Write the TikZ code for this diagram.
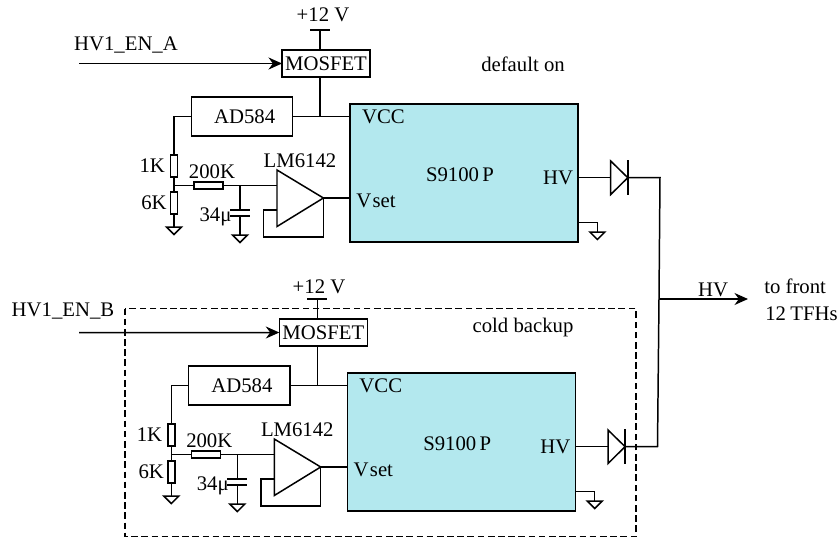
\documentclass[tikz,border=0pt]{standalone}
\usepackage{fontspec}
\setmainfont{Liberation Serif}
\usetikzlibrary{positioning, arrows.meta, calc}
\definecolor{chipfill}{HTML}{B3E8EE}
\tikzset{
    every node/.style={font=\fontsize{11.8}{14}\selectfont, inner sep=0pt},
    wire/.style={line width=0.85pt},
    block/.style={draw, line width=0.85pt, outer sep=0pt},
    res/.style={draw, line width=0.85pt, outer sep=0pt, minimum width=0.14cm, minimum height=0.44cm},
    resh/.style={draw, line width=0.85pt, outer sep=0pt, minimum width=0.58cm, minimum height=0.14cm},
    sigarrow/.style={line width=0.85pt, -{Stealth[length=2.7mm, width=2.4mm]}},
    gndsym/.pic={\draw[wire] (-7.5,0) -- (7.5,0) -- (0,7.5) -- cycle;}
}

\begin{document}
\begin{tikzpicture}[x=0.02cm, y=-0.02cm]
    \useasboundingbox (0,0) rectangle (839,542);

    % one channel, the second is the same one moved down
    \foreach \ch/\dx/\dy in {A/0/0, B/-2.7/269} {
    \begin{scope}[shift={(\dx,\dy)}]
        \node[block, fill=chipfill, minimum width=4.56cm, minimum height=2.76cm] (chip\ch) at (464,173.2) {};
        \node[block, minimum width=1.76cm, minimum height=0.54cm] (mos\ch) at (326,63.5) {MOSFET};
        \node[block, minimum width=2.03cm, minimum height=0.78cm] (ad\ch) at (242,116.7) {\hspace{3pt}AD584};
        \node (vcc\ch) at (383.5,116.5) {VCC};
        \node (vset\ch) at (376,201) {V\kern0.8pt set};
        \node (name\ch) at (460,174.5) {S9100\,P};
        \node (hv\ch) at (558,177.5) {HV};
        \node[res] (rup\ch) at (174,166) {};
        \node[res] (rlo\ch) at (174,203) {};
        \node[resh] (rser\ch) at (208.5,185.7) {};
        \node[left=3pt of rup\ch] (lup\ch) {1K};
        \node[left=2pt of rlo\ch] (llo\ch) {6K};
        \node (lser\ch) at (212,171.5) {200K};
        \node (lcap\ch) at (215.5,216.5) {34μ};
        \node (lop\ch) at (300,161) {LM6142};

        % supply and reference
        \coordinate (top\ch) at (320,30);
        \coordinate (tee\ch) at (320,116.3);
        \draw[wire] (310,30) -- (330,30);
        \draw[wire] (top\ch) -- (top\ch |- mos\ch.north);
        \draw[wire] (tee\ch |- mos\ch.south) -- (tee\ch);
        \draw[wire] (ad\ch.east |- tee\ch) -- (chip\ch.west |- tee\ch);

        % divider
        \coordinate (mid\ch) at (174,185.7);
        \draw[wire] (ad\ch.west) -- (rup\ch |- ad\ch.west) -- (rup\ch.north);
        \draw[wire] (rup\ch.south) -- (rlo\ch.north);
        \draw[wire] (rlo\ch.south) -- (174,227);
        \pic at (174,227) {gndsym};
        \draw[wire] (mid\ch) -- (rser\ch.west);

        % buffer
        \coordinate (opin\ch) at (277,185.7);
        \coordinate (opout\ch) at (323.4,198);
        \draw[wire] (277,170) -- (opout\ch) -- (277,226.5) -- cycle;
        \draw[wire] (rser\ch.east) -- (opin\ch);
        \draw[wire] (opout\ch) -- (chip\ch.west |- opout\ch);
        \draw[wire] (opout\ch) -- (323.4,237) -- (263.6,237) -- (263.6,210) -- (277,210);

        % capacitor
        \coordinate (capin\ch) at (240,185.7);
        \draw[wire] (capin\ch) -- (240,210);
        \draw[wire] (230,210) -- (250,210);
        \draw[wire] (230,216) -- (250,216);
        \draw[wire] (240,216) -- (240,235);
        \pic at (240,235) {gndsym};

        % output diode
        \coordinate (din\ch) at (610.7,177.7);
        \coordinate (dout\ch) at (627.8,177.7);
        \draw[wire] (chip\ch.east |- din\ch) -- (din\ch);
        \draw[wire] (610.7,161) -- (dout\ch) -- (610.7,194.5) -- cycle;
        \draw[wire] (627.8,160) -- (627.8,195);

        % chip ground
        \coordinate (cg\ch) at (597.4,222.7);
        \draw[wire] (chip\ch.east |- cg\ch) -- (cg\ch) -- (597.4,232);
        \pic at (597.4,232) {gndsym};
    \end{scope}
    }

    % labels that do not follow the channel
    \node (vA) at (323,14.5) {+12 V};
    \node (vB) at (319,286.5) {+12 V};
    \node (enA) at (126,44.5) {HV1\_EN\_A};
    \node (enB) at (63,310.5) {HV1\_EN\_B};
    \node (defon) at (523,64.5) {default on};
    \node (cold) at (523,327.5) {cold backup};

    % enable inputs
    \coordinate (startA) at (79,63.5);
    \coordinate (startB) at (79,332.6);
    \draw[sigarrow] (startA) -- (mosA.west);
    \draw[sigarrow] (startB) -- (mosB.west);

    % backup frame
    \draw[wire, dash pattern=on 3.8pt off 2pt] (125,308.5) rectangle (636,536.7);

    % common output
    \coordinate (joint) at (659,299);
    \coordinate (outtip) at (748,299);
    \draw[wire] (doutA) -- (660,177.7) -- (joint);
    \draw[wire] (doutB) -- (657.5,446.7) -- (joint);
    \draw[sigarrow] (joint) -- (outtip);
    \node (hvout) at (713,289.5) {HV};
    \node[right] (front) at (764,286.5) {to front};
    \node[right] (tfh) at (765,313.5) {12\kern2.5pt TFHs};
\end{tikzpicture}
\end{document}
